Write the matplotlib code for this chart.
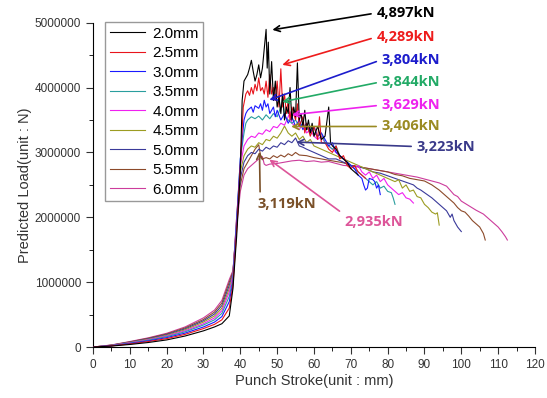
import numpy as np
import matplotlib.pyplot as plt
from matplotlib.ticker import MultipleLocator

# DATA (x: punch stroke mm, y: load kN -> multiplied by 1000 for N)
labels = ["2.0mm", "2.5mm", "3.0mm", "3.5mm", "4.0mm", "4.5mm", "5.0mm", "5.5mm", "6.0mm"]
colors = ["#000000", "#e8141c", "#1a1aff", "#2a9e9e", "#f020f0", "#9c9c22", "#3a3a9a", "#8c4a2a", "#cc3c9c"]

x_rise = [0, 5, 10, 15, 20, 25, 30, 33, 35, 37, 38]
y_rise = [
    [0, 15, 40, 70, 110, 170, 250, 310, 360, 480, 900],
    [0, 18, 48, 85, 130, 195, 285, 350, 420, 600, 950],
    [0, 20, 55, 95, 145, 215, 310, 385, 470, 700, 1000],
    [0, 22, 60, 105, 160, 235, 340, 420, 520, 780, 1050],
    [0, 24, 65, 112, 170, 250, 360, 450, 560, 850, 1100],
    [0, 26, 70, 120, 180, 265, 385, 480, 600, 900, 1120],
    [0, 28, 75, 128, 192, 280, 405, 510, 640, 950, 1140],
    [0, 30, 80, 135, 202, 295, 425, 540, 680, 1000, 1160],
    [0, 32, 85, 142, 212, 310, 450, 570, 720, 1040, 1180],
]

x_top = [
    [39, 40, 40.5, 41, 41.5, 42, 42.5, 43, 43.5, 44, 44.5, 45, 45.5, 46, 46.5, 47, 47.3, 47.6, 48, 48.5,
     49, 49.5, 50, 50.5, 51, 51.5, 52, 52.5, 53, 53.5, 54, 54.5, 55, 55.5, 56, 56.5, 57, 57.5, 58, 58.5,
     59, 59.5, 60, 61, 62, 63, 64, 64.5, 65, 66, 67, 68, 69, 70, 71, 72],
    [39, 40, 40.8, 41.5, 42, 42.5, 43, 43.5, 44, 44.5, 45, 45.5, 46, 46.5, 47, 47.5, 48, 48.5, 49, 49.5,
     50, 50.5, 51, 51.5, 52, 52.5, 53, 53.5, 54, 55, 55.5, 56, 57, 57.5, 58, 59, 60, 61, 61.5, 62,
     63, 64, 65, 66, 67, 68, 69, 70, 71, 72, 73, 74],
    [39, 40, 41, 41.5, 42, 43, 43.5, 44, 45, 45.5, 46, 46.5, 47, 47.5, 48, 49, 49.5, 50, 51, 52,
     53, 54, 55, 56, 57, 58, 59, 60, 61, 62, 63, 64, 65, 66, 67, 68, 69, 70, 71, 72,
     73, 73.5, 74, 74.5, 75, 76, 76.5, 77, 77.5, 78],
    [39, 40, 41, 41.5, 42, 43, 44, 45, 46, 47, 48, 49, 50, 51, 51.5, 52, 53, 54, 55, 56,
     57, 58, 59, 60, 61, 62, 63, 64, 65, 66, 67, 68, 69, 70, 71, 72, 73, 74, 75, 76,
     77, 78, 79, 80, 81, 81.5, 82],
    [39, 40, 41, 42, 43, 44, 45, 46, 47, 48, 49, 50, 51, 52, 53, 53.5, 54, 55, 56, 57,
     58, 59, 60, 61, 62, 63, 64, 65, 66, 67, 68, 69, 70, 71, 72, 73, 74, 75, 76, 77,
     78, 79, 80, 81, 82, 83, 84, 85, 86, 87],
    [39, 40, 41, 42, 43, 44, 45, 46, 47, 48, 49, 50, 51, 52, 53, 54, 55, 56, 57, 58,
     59, 60, 62, 64, 66, 68, 70, 72, 74, 76, 78, 80, 82, 83, 84, 85, 86, 87, 88, 89,
     90, 91, 92, 93, 93.5, 94],
    [39, 40, 41, 42, 43, 44, 45, 46, 47, 48, 49, 50, 51, 52, 53, 54, 55, 56, 57, 58,
     60, 62, 64, 66, 68, 70, 72, 74, 76, 78, 80, 82, 84, 86, 87, 88, 89, 90, 91, 92,
     93, 94, 95, 96, 97, 97.5, 98, 99, 100],
    [39, 40, 41, 42, 43, 44, 45, 45.5, 46, 47, 48, 49, 50, 51, 52, 53, 54, 55, 56, 58,
     60, 62, 64, 66, 68, 70, 72, 74, 76, 78, 80, 82, 84, 86, 88, 90, 92, 94, 96, 97,
     98, 99, 100, 101, 102, 103, 104, 105, 106, 106.5],
    [39, 40, 41, 42, 43, 44, 45, 46, 46.5, 47, 48, 50, 52, 54, 56, 58, 60, 62, 64, 66,
     68, 70, 72, 74, 76, 78, 80, 82, 84, 86, 88, 90, 92, 94, 96, 98, 99, 100, 102, 104,
     106, 107, 108, 109, 110, 111, 112, 112.5],
]
y_top = [
    [1700, 2700, 3800, 4100, 4150, 4200, 4300, 4420, 4250, 4100, 4200, 4350, 4150, 4300, 4600, 4897, 4300, 4700, 3900, 4400,
     3800, 4100, 3700, 3850, 3600, 3900, 3500, 3700, 3600, 4000, 3500, 3700, 3550, 4380, 3500, 3600, 3400, 3650, 3350, 3500,
     3300, 3450, 3250, 3400, 3200, 3250, 3700, 3150, 3100, 3050, 2950, 2900, 2850, 2750, 2700, 2650],
    [1800, 2800, 3700, 3900, 3950, 3880, 4000, 3900, 4050, 3950, 4150, 3950, 4000, 3900, 4100, 3850, 4200, 3900, 4000, 3800,
     4100, 3700, 4289, 3700, 3900, 3600, 3800, 3500, 3700, 3500, 3750, 3400, 3550, 3300, 3450, 3250, 3400, 3200, 3550, 3150,
     3150, 3050, 3000, 3100, 2900, 2950, 2800, 2750, 2800, 2700, 2650, 2600],
    [1900, 2900, 3500, 3600, 3650, 3700, 3620, 3720, 3680, 3750, 3650, 3804, 3700, 3750, 3600, 3700, 3550, 3650, 3500, 3600,
     3450, 3550, 3400, 3500, 3350, 3450, 3300, 3400, 3250, 3300, 3200, 3100, 3150, 3000, 2950, 2900, 2850, 2800, 2750, 2650,
     2600, 2500, 2420, 2450, 2600, 2580, 2550, 2450, 2500, 2350],
    [1950, 2900, 3300, 3450, 3500, 3550, 3520, 3560, 3500, 3580, 3520, 3600, 3550, 3700, 3844, 3550, 3500, 3450, 3500, 3400,
     3450, 3350, 3400, 3300, 3250, 3300, 3150, 3100, 3050, 3100, 2950, 2900, 2850, 2800, 2750, 2700, 2650, 2600, 2550, 2500,
     2550, 2450, 2480, 2400, 2380, 2300, 2200],
    [2000, 2800, 3100, 3200, 3250, 3230, 3300, 3280, 3350, 3320, 3400, 3380, 3450, 3420, 3550, 3629, 3450, 3400, 3350, 3450,
     3300, 3350, 3250, 3200, 3250, 3150, 3100, 3050, 3000, 2950, 2900, 2850, 2800, 2750, 2800, 2700, 2650, 2700, 2600, 2650,
     2550, 2600, 2500, 2450, 2400, 2350, 2380, 2300, 2280, 2220],
    [2000, 2700, 2950, 3050, 3100, 3080, 3150, 3120, 3200, 3180, 3250, 3220, 3300, 3406, 3300, 3250, 3300, 3200, 3250, 3150,
     3200, 3100, 3050, 3000, 2950, 2900, 2850, 2800, 2750, 2700, 2650, 2600, 2550, 2580, 2450, 2500, 2400, 2420, 2320, 2300,
     2200, 2150, 2080, 2050, 2070, 1880],
    [1950, 2600, 2850, 2950, 3000, 2980, 3050, 3020, 3080, 3050, 3100, 3080, 3150, 3120, 3180, 3150, 3223, 3100, 3080, 3050,
     3000, 2950, 2900, 2900, 2850, 2800, 2780, 2750, 2700, 2680, 2640, 2600, 2560, 2520, 2500, 2450, 2420, 2380, 2340, 2300,
     2250, 2200, 2150, 2100, 2000, 2050, 1950, 1850, 1780],
    [1900, 2500, 2750, 2850, 2950, 3050, 3119, 2950, 2900, 2920, 2900, 2950, 2920, 2960, 2930, 2980, 2950, 3000, 2960, 2950,
     2920, 2900, 2880, 2860, 2840, 2800, 2780, 2760, 2740, 2720, 2700, 2660, 2640, 2600, 2580, 2560, 2500, 2420, 2320, 2270,
     2220, 2150, 2100, 2080, 2020, 1950, 1900, 1850, 1750, 1650],
    [1850, 2400, 2650, 2750, 2800, 2850, 2900, 2935, 2820, 2800, 2820, 2830, 2850, 2870, 2880, 2860, 2870, 2850, 2860, 2830,
     2800, 2790, 2780, 2760, 2740, 2720, 2700, 2680, 2660, 2640, 2620, 2590, 2560, 2530, 2480, 2350, 2320, 2250, 2180, 2110,
     2050, 2000, 1950, 1900, 1850, 1780, 1700, 1650],
]

# peak labels: text, colour, text position (mm, kN), arrow tip (mm, kN), arrow start on text box
peak_text = ["4,897kN", "4,289kN", "3,804kN", "3,844kN", "3,629kN", "3,406kN", "3,223kN", "3,119kN", "2,935kN"]
peak_color = ["#000000", "#ee1c1c", "#1c1ccc", "#22aa66", "#ee22ee", "#9a8a22", "#3a3a8a", "#7a5028", "#dd5599"]
text_xy = [(77, 5150), (77, 4780), (78.4, 4430), (78.4, 4090), (78.4, 3730), (78.4, 3400), (87.9, 3090), (44.6, 2200), (68.3, 1930)]
tip_xy = [(48.7, 4890), (51.4, 4350), (47.9, 3810), (51.4, 3780), (54, 3580), (53.8, 3400), (55.2, 3160), (45.2, 3010), (47.9, 2890)]
rel_pos = [(0, 0.5)] * 7 + [(0.05, 1.0), (0.0, 1.0)]

fig = plt.figure(figsize=(5.47, 3.98), dpi=100)
ax = fig.add_axes([0.170, 0.128, 0.808, 0.815])

for i in range(len(labels)):
    xs = list(x_rise) + x_top[i]
    ys = np.array(list(y_rise[i]) + y_top[i]) * 1000
    ax.plot(xs, ys, color=colors[i], lw=0.8, label=labels[i], zorder=20 - i)

for t, c, (tx, ty), (px, py), rp in zip(peak_text, peak_color, text_xy, tip_xy, rel_pos):
    ax.annotate(t, xy=(px, py * 1000), xytext=(tx, ty * 1000), color=c,
                fontsize=10.5, fontweight="bold", family=["Open Sans", "DejaVu Sans"],
                ha="left", va="center", annotation_clip=False,
                arrowprops=dict(arrowstyle="->", color=c, lw=1.2, shrinkA=2, shrinkB=0, relpos=rp),
                zorder=30)

ax.set_xlim(0, 120)
ax.set_ylim(0, 5000000)
ax.xaxis.set_major_locator(MultipleLocator(10))
ax.xaxis.set_minor_locator(MultipleLocator(5))
ax.yaxis.set_major_locator(MultipleLocator(1000000))
ax.yaxis.set_minor_locator(MultipleLocator(500000))
ax.ticklabel_format(axis="y", style="plain")
ax.spines["top"].set_visible(False)
ax.spines["right"].set_visible(False)
ax.tick_params(which="major", length=5, labelsize=8.5, colors="#333333")
ax.tick_params(which="minor", length=3)
for lbl in ax.get_xticklabels() + ax.get_yticklabels():
    lbl.set_family("Liberation Sans")

ax.set_xlabel("Punch Stroke(unit : mm)", fontsize=10.5, family="Liberation Sans", color="#333333", labelpad=2)
ax.set_ylabel("Predicted Load(unit : N)", fontsize=10.5, family="Liberation Sans", color="#333333", labelpad=2)

leg = ax.legend(loc="upper left", bbox_to_anchor=(0.01, 1.025), handlelength=2.3,
                labelspacing=0.36, borderpad=0.3, handletextpad=0.5, fancybox=False,
                framealpha=1, edgecolor="#999999", prop={"family": "Liberation Sans", "size": 11})
leg.set_zorder(40)

fig.savefig("out.png", dpi=100)
